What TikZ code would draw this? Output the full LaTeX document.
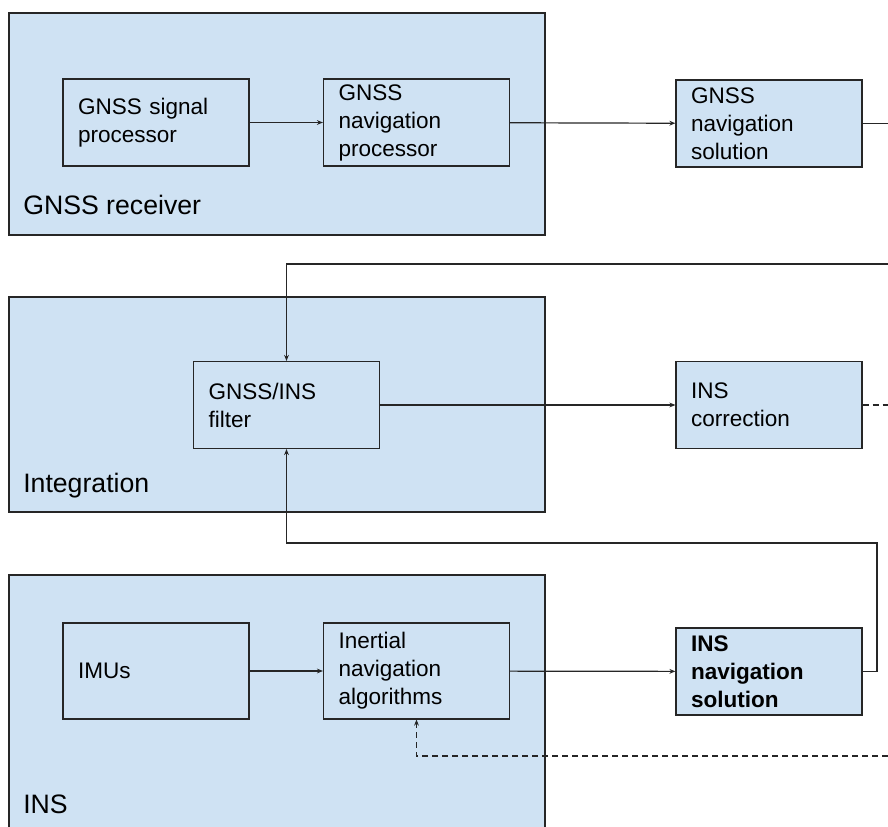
\documentclass[tikz,border=0pt]{standalone}
\usepackage{fontspec}
\setmainfont{Liberation Sans}
\usetikzlibrary{arrows.meta}
\definecolor{panelblue}{HTML}{CFE2F3}
\definecolor{linegray}{HTML}{262626}
\begin{document}
\begin{tikzpicture}[x=0.75pt, y=-0.75pt,
  panel/.style = {draw=linegray, fill=panelblue, line width=0.9pt},
  panellabel/.style = {anchor=base west, inner sep=0pt,
    font=\fontsize{20}{24}\selectfont},
  block/.style = {shape=rectangle, draw=linegray, fill=panelblue,
    line width=0.9pt, minimum width=139.5pt, minimum height=65.25pt,
    text width=117pt, inner xsep=11.25pt, inner ysep=0pt, align=left,
    font=\fontsize{16.9}{21}\selectfont},
  tall/.style = {minimum height=72pt},
  plain/.style = {draw=linegray, line width=0.9pt},
  link/.style = {plain, -{Stealth[length=4.5pt, width=3.6pt]}},
  dashlink/.style = {link, dash pattern=on 4.5pt off 3pt}]
  \useasboundingbox (0,0) rectangle (888,827);
  \clip (0,0) rectangle (888,827);

  % the three subsystems
  \draw[panel] (9,13) rectangle (545,235);
  \draw[panel] (9,297) rectangle (545,512);
  \draw[panel] (9,575) rectangle (545,840);
  \node[panellabel] (rxlabel) at (23,215) {GNSS receiver};
  \node[panellabel] (intlabel) at (23,492) {Integration};
  \node[panellabel] (inslabel) at (23,813) {INS};

  \node[block] (sigproc) at (156,122.5) {GNSS signal\\processor};
  \node[block] (navproc) at (416.5,122.5) {GNSS\\navigation\\processor};
  \node[block] (gnsssol) at (769,123.5) {GNSS\\navigation\\solution};
  \node[block] (filter) at (286.5,405) {GNSS/INS\\filter};
  \node[block] (inscorr) at (769,405) {INS\\correction};
  \node[block, tall] (imus) at (156,671) {IMUs};
  \node[block, tall] (insalg) at (416.5,671) {Inertial\\navigation\\algorithms};
  \node[block, font=\fontsize{16.9}{21}\selectfont\bfseries] (inssol) at (769,671.5) {INS\\navigation\\solution};

  % loose ends at the right border
  \coordinate (gnssout) at (888,123.5);
  \coordinate (gnssin) at (888,264);
  \coordinate (corrout) at (888,405);
  \coordinate (fbturn) at (877,543);
  \coordinate (fbin) at (888,756);

  \draw[link] (sigproc) -- (navproc);
  \draw[link] (navproc) -- (gnsssol);
  \draw[plain] (gnsssol.east) -- (gnssout);
  \draw[link] (gnssin) -| (filter.north);
  \draw[link] (filter) -- (inscorr);
  \draw[plain, dash pattern=on 4.5pt off 3pt] (inscorr.east) -- (corrout);
  \draw[link] (imus) -- (insalg);
  \draw[link] (insalg) -- (inssol);
  \draw[link] (inssol.east) -| (fbturn) -| (filter.south);
  \draw[dashlink] (fbin) -| (insalg.south);
\end{tikzpicture}
\end{document}
